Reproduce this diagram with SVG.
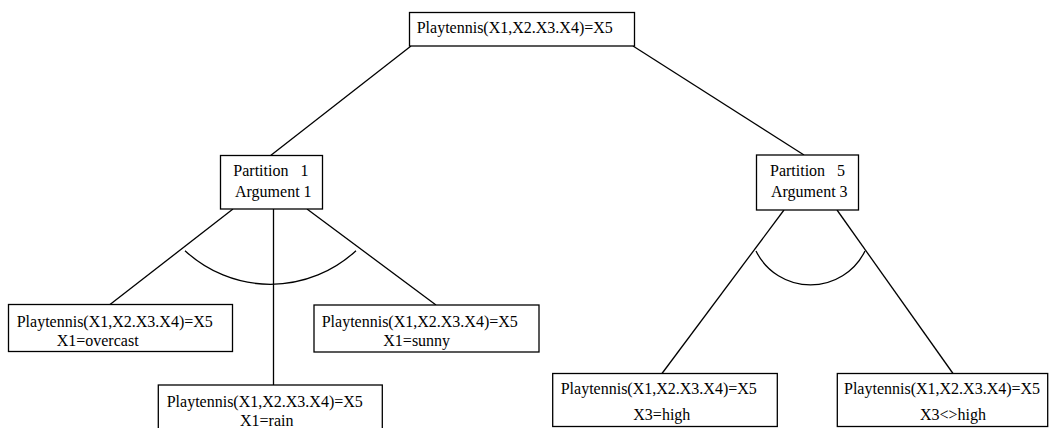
<svg xmlns="http://www.w3.org/2000/svg" width="1049" height="428" viewBox="0 0 1049 428">
<style>
rect{fill:#fff;stroke:#000;stroke-width:1.3}
text{font-family:"Liberation Serif","Times New Roman",serif;font-size:16px;fill:#000;white-space:pre}
.c line,.c path{stroke:#000;stroke-width:1.3;fill:none}
</style>
<rect width="1049" height="428" style="stroke:none"/>
<g id="connectors" class="c">
<line x1="411" y1="46" x2="270" y2="156"/>
<line x1="633" y1="46" x2="804" y2="155"/>
<line x1="233" y1="209" x2="110" y2="304.5"/>
<line x1="273.5" y1="209" x2="273.5" y2="385"/>
<line x1="307" y1="209" x2="436" y2="305"/>
<line x1="784" y1="210" x2="662" y2="373.5"/>
<line x1="837" y1="210" x2="953" y2="373.5"/>
<path d="M185,250.7 A125.6,125.6 0 0 0 356,250.7"/>
<path d="M756,251 A60.7,60.7 0 0 0 865,251"/>
</g>
<g id="root"><rect x="409.5" y="12.5" width="225" height="33.5"/><text x="416.7" y="33.3">Playtennis(X1,X2.X3.X4)=X5</text></g>
<g id="p1"><rect x="220.5" y="155.5" width="102" height="53.5"/><text x="233.3" y="176">Partition   1</text><text x="235" y="196.5">Argument 1</text></g>
<g id="p5"><rect x="756.5" y="155" width="102" height="55"/><text x="770" y="176">Partition   5</text><text x="771" y="196.7">Argument 3</text></g>
<g id="overcast"><rect x="8.5" y="304.5" width="224" height="47"/><text x="16.7" y="326.5">Playtennis(X1,X2.X3.X4)=X5</text><text x="56.7" y="345.5">X1=overcast</text></g>
<g id="sunny"><rect x="314" y="305" width="225" height="47"/><text x="321.7" y="327">Playtennis(X1,X2.X3.X4)=X5</text><text x="383.3" y="345.5">X1=sunny</text></g>
<g id="rain"><rect x="158.3" y="385" width="224" height="50"/><text x="166.7" y="406.5">Playtennis(X1,X2.X3.X4)=X5</text><text x="240" y="426">X1=rain</text></g>
<g id="high"><rect x="552.7" y="373.5" width="224.6" height="53"/><text x="560.7" y="393.5">Playtennis(X1,X2.X3.X4)=X5</text><text x="633.3" y="420">X3=high</text></g>
<g id="nothigh"><rect x="837.3" y="373.5" width="210.4" height="53"/><text x="844" y="393.5">Playtennis(X1,X2.X3.X4)=X5</text><text x="920" y="420">X3&lt;&gt;high</text></g>
</svg>
